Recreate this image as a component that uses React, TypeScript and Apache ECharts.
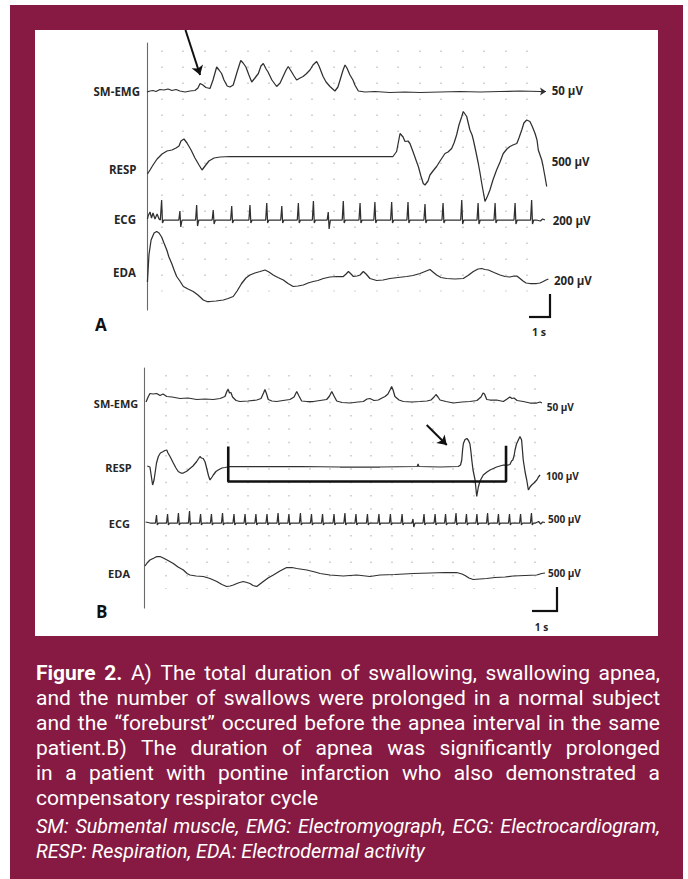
import React, { useEffect, useRef } from "react";
import * as echarts from "echarts";

// ---------- DATA (time in s, amplitude in display units relative to each channel baseline) ----------
// Panel A – normal subject
const emgA: [number, number][] = [
  [0.0, -0.5], [0.14, 0.5], [0.28, 1], [0.42, 0], [0.6, 2], [0.79, 1.5], [0.98, 2.5], [1.16, 1], [1.35, 2], [1.53, 0.5],
  [1.77, -0.5], [2.0, 0.5], [2.23, 1], [2.37, 3.5], [2.47, 8], [2.6, 6.5], [2.74, 4], [2.93, 3], [3.07, 11.5], [3.24, 24.5],
  [3.35, 21.5], [3.47, 18], [3.58, 11.5], [3.73, 5.5], [3.86, 4.5], [4.01, 6.5], [4.19, 19.5], [4.36, 31], [4.47, 28.5], [4.6, 24.5],
  [4.74, 16.5], [4.87, 9.5], [5.02, 13.5], [5.18, 18], [5.3, 25.5], [5.41, 28], [5.54, 22.5], [5.63, 19.5], [5.81, 11.5], [6.03, 5],
  [6.19, 8.5], [6.33, 15], [6.47, 21.5], [6.57, 25], [6.7, 20.5], [6.84, 15.5], [6.96, 11.5], [7.12, 13.5], [7.26, 15], [7.4, 17.5],
  [7.58, 21.5], [7.72, 26.5], [7.89, 30], [8.0, 25.5], [8.19, 15], [8.33, 9.5], [8.51, 5], [8.74, 0.5], [8.88, 4.5], [8.98, 11.5],
  [9.12, 21.5], [9.21, 26.5], [9.3, 23.5], [9.44, 16.5], [9.58, 11.5], [9.67, 6.5], [9.83, 0.5], [10.14, -0.5], [10.6, 0], [11.3, -1],
  [12.0, -0.5], [12.7, -1], [13.63, -0.5], [14.56, 0], [15.49, -0.5], [16.42, 0], [17.35, 0.5], [18.28, 0], [18.51, 0],
];
const respA: [number, number][] = [
  [0.02, -17], [0.14, -13], [0.28, -8], [0.47, -2], [0.7, 3], [0.93, 6], [1.16, 7], [1.35, 9], [1.49, 11], [1.58, 16],
  [1.72, 18], [1.86, 14], [2.05, 7], [2.23, -1], [2.42, -8], [2.56, -13], [2.7, -9], [2.88, -4], [3.12, -1], [3.4, 0],
  [3.86, 0.5], [5.26, 0.5], [7.12, 0.5], [8.98, 0.5], [10.98, 0.5], [11.44, 0.5], [11.61, 5.5], [11.77, 23.5], [11.91, 20], [12.0, 15.5],
  [12.14, 16], [12.23, 13.5], [12.37, 5.5], [12.51, -3], [12.62, -9.5], [12.74, -19], [12.85, -26.5], [12.93, -28], [13.07, -24], [13.16, -18],
  [13.3, -14], [13.47, -9.5], [13.63, -4], [13.86, 3.5], [14.0, 5], [14.17, 8.5], [14.28, 14], [14.4, 22], [14.51, 32], [14.64, 40.5],
  [14.71, 45.5], [14.79, 43], [14.87, 40.5], [14.93, 35], [15.02, 27], [15.12, 22], [15.18, 17], [15.3, 5], [15.41, -6.5], [15.49, -16],
  [15.57, -26.5], [15.65, -36], [15.72, -44.5], [15.84, -39], [15.95, -33], [16.09, -23], [16.26, -13], [16.42, -5], [16.57, 3.5], [16.74, 8],
  [16.88, 10.5], [17.02, 12], [17.2, 13.5], [17.3, 19], [17.43, 27], [17.53, 34], [17.66, 37], [17.81, 35.5], [17.91, 31], [18.05, 23.5],
  [18.14, 17], [18.2, 7], [18.28, 2], [18.36, -3], [18.42, -9], [18.51, -19.5], [18.59, -29.5],
];
const ecgLeadA: [number, number][] = [
  [0.02, 1], [0.05, 4], [0.14, 8], [0.21, 2], [0.28, 7], [0.37, 1], [0.47, 6], [0.56, 1], [0.62, 0],
];
// beat time, R height, S depth
const ecgBeatsA: [number, number, number][] = [
  [0.68, 20, 3], [1.53, 9, 7], [2.31, 15, 6], [3.08, 10, 4], [3.94, 14, 3], [4.79, 15, 3], [5.57, 17, 3], [6.27, 14, 3],
  [7.04, 17, 3], [7.74, 19, 3], [8.43, 8, 9], [9.13, 19, 3], [9.91, 17, 3], [10.6, 18, 3], [11.38, 18, 3], [12.14, 18, 3],
  [12.93, 16, 3], [13.77, 17, 3], [14.64, 20, 4], [15.4, 17, 4], [16.19, 17, 3], [17.12, 17, 4], [17.89, 20, 4],
];
const ecgTailA: [number, number][] = [[18.1, 0], [18.3, -1], [18.4, 1], [18.51, 0]];
const edaA: [number, number][] = [
  [0.02, -5], [0.09, 22], [0.19, 37], [0.33, 44], [0.45, 45.5], [0.56, 44], [0.68, 40], [0.79, 34], [0.92, 27], [1.02, 20],
  [1.15, 13.5], [1.26, 7], [1.38, 0.5], [1.53, -4], [1.69, -9.5], [1.91, -12], [2.15, -14.5], [2.37, -18], [2.62, -23], [2.79, -24.5],
  [2.93, -24.5], [3.21, -24], [3.55, -23], [3.77, -21.5], [4.01, -19.5], [4.19, -14], [4.4, -6.5], [4.6, -1], [4.79, 2], [5.02, 4],
  [5.26, 5.5], [5.49, 7], [5.67, 5], [5.87, 2], [6.09, -0.5], [6.34, -3], [6.56, -6.5], [6.8, -9.5], [7.02, -9], [7.27, -8],
  [7.49, -6], [7.73, -4.5], [7.95, -3.5], [8.2, -1.5], [8.51, 0], [8.82, 0.5], [9.13, 0.5], [9.26, 3], [9.37, 5.5], [9.49, 3],
  [9.6, 0.5], [9.77, 1], [9.91, 2], [10.06, 5.5], [10.19, 3], [10.37, -1.5], [10.68, -3.5], [10.98, -3], [11.3, -1.5], [11.67, -0.5],
  [12.08, 0.5], [12.37, 1.5], [12.7, 3.5], [12.93, 5.5], [13.16, 7.5], [13.3, 5], [13.47, 2], [13.67, -0.5], [13.94, -1.5], [14.33, -2],
  [14.71, -1.5], [14.93, 1.5], [15.18, 5.5], [15.4, 8], [15.57, 8.5], [15.72, 7.5], [15.88, 7], [16.14, 4.5], [16.42, 2], [16.65, 0.5],
  [16.88, 0], [17.07, 1], [17.2, 1], [17.35, -1.5], [17.49, -4], [17.63, -6], [17.81, -6.5], [18.12, -6.5], [18.28, -6], [18.43, -4.5],
  [18.56, -3], [18.67, -2],
];
// foreburst arrow (start, end) on SM-EMG A: [t, amplitude]
const arrowA: [number, number][] = [[1.79, 61.5], [2.47, 16.5]];

// Panel B – pontine infarction
const emgB: [number, number][] = [
  [0.1, -1], [0.2, 4], [0.29, 7.5], [0.44, 7], [0.62, 7.5], [0.78, 5.5], [0.93, 7], [1.11, 4.5], [1.37, 4], [1.76, 2.5],
  [2.15, 3], [2.57, 1.5], [2.98, 2], [3.38, 1.5], [3.71, 2.5], [3.95, 4.5], [4.05, 10], [4.11, 11.5], [4.17, 8], [4.24, 8.5],
  [4.32, 4], [4.49, 0.5], [4.68, -0.5], [5.07, 0], [5.5, 1], [5.71, 2.5], [5.83, 8], [5.9, 11.5], [5.98, 7], [6.06, 1.5],
  [6.24, 0], [6.47, -0.5], [6.78, 0.5], [7.12, 1.5], [7.32, 4], [7.45, 9.5], [7.56, 5], [7.69, 0], [7.95, -0.5], [8.26, -0.5],
  [8.59, 0.5], [8.91, 1.5], [9.05, 5], [9.16, 9.5], [9.27, 5], [9.4, 0], [9.66, -1.5], [10.05, -2], [10.44, -1], [10.7, -0.5],
  [10.88, 2], [11.02, 2.5], [11.22, 0.5], [11.43, 1], [11.61, 3], [11.76, 4.5], [11.9, 7], [12.0, 11], [12.08, 14.5], [12.15, 11],
  [12.24, 4.5], [12.44, 1], [12.65, -0.5], [13.07, -1], [13.46, -0.5], [13.8, 0], [14.0, 1], [14.15, 4], [14.24, 6.5], [14.34, 4],
  [14.44, 1], [14.73, -0.5], [15.09, -2], [15.51, -1], [15.9, -0.5], [16.24, 0.5], [16.44, 4], [16.54, 8], [16.61, 7], [16.72, 1.5],
  [16.88, 1], [17.2, 1], [17.53, -0.5], [17.71, 2], [17.85, 4], [17.95, 2.5], [18.05, 3], [18.2, 0.5], [18.5, -0.5], [18.83, -2],
  [19.16, -2], [19.32, -1], [19.41, -2],
];
const respB: [number, number][] = [
  [0.16, 0.5], [0.29, -0.5], [0.37, -11.5], [0.42, -18.5], [0.49, -13.5], [0.54, -6.5], [0.61, 3.5], [0.7, 10], [0.8, 13.5], [0.94, 15],
  [1.02, 16], [1.11, 16.5], [1.17, 13.5], [1.27, 10], [1.43, 3.5], [1.56, -1.5], [1.67, -5], [1.8, -6.5], [1.92, -6.5], [2.1, -4.5],
  [2.24, -2], [2.39, 0.5], [2.57, 5], [2.68, 8.5], [2.73, 10], [2.8, 8.5], [2.89, 8], [2.98, 4.5], [3.06, -2], [3.15, -9.5],
  [3.22, -13.5], [3.32, -10.5], [3.38, -8.5], [3.51, -5], [3.62, -3.5], [3.8, -1.5], [3.95, -1], [4.2, 0], [5.66, 0], [7.61, 0],
  [9.56, -0.5], [11.51, -0.5], [13.33, 0], [13.37, 2.5], [13.41, 0], [14.44, -0.5], [15.33, 0], [15.44, 1.5], [15.5, 6.5], [15.54, 16.5],
  [15.58, 23], [15.66, 27], [15.75, 28], [15.83, 26], [15.9, 22.5], [15.95, 14.5], [15.99, 6.5], [16.05, -3.5], [16.15, -13.5], [16.23, -30],
  [16.31, -20.5], [16.39, -14.5], [16.55, -8.5], [16.73, -5.5], [16.88, -3.5], [17.2, -0.5], [17.53, 1.5], [17.76, 1.5], [17.85, 2], [17.93, 5.5],
  [17.99, 6.5], [18.05, 10.5], [18.1, 16.5], [18.17, 22.5], [18.26, 26.5], [18.34, 30], [18.42, 26.5], [18.46, 16.5], [18.5, 6.5], [18.59, -5.5],
  [18.67, -13.5], [18.75, -23.5], [18.83, -20.5], [18.91, -18.5], [19.02, -16.5], [19.16, -13.5], [19.24, -10.5], [19.32, -8.5],
];
const ecgLeadB: [number, number][] = [[0.08, 1], [0.3, 0], [0.5, 0]];
const ecgBeatsB: [number, number, number][] = [
  [0.61, 8, 2], [1.15, 9, 2], [1.68, 10, 2], [2.22, 12, 2], [2.76, 9, 2], [3.29, 9, 2], [3.83, 10, 2], [4.39, 9, 2],
  [4.93, 9, 2], [5.46, 9, 2], [6.0, 9, 2], [6.54, 10, 2], [7.07, 9, 2], [7.63, 10, 2], [8.17, 9, 2], [8.71, 9, 2],
  [9.27, 9, 2], [9.8, 10, 2], [10.34, 9, 2], [10.9, 9, 2], [11.46, 9, 2], [12.02, 9, 2], [12.59, 9, 2], [13.12, 4, 4],
  [13.66, 9, 2], [14.2, 9, 2], [14.71, 9, 2], [15.22, 10, 2], [15.73, 9, 2], [16.24, 9, 2], [16.76, 10, 2], [17.29, 9, 2],
  [17.83, 9, 2], [18.37, 9, 2], [18.9, 10, 2],
];
const ecgTailB: [number, number][] = [[19.1, 0], [19.25, 1.5], [19.35, -1], [19.45, 1], [19.56, 0.5]];
const edaB: [number, number][] = [
  [0.05, 9], [0.15, 12], [0.29, 15], [0.49, 17], [0.63, 18.5], [0.78, 18.5], [0.94, 17], [1.17, 14.5], [1.43, 11.5], [1.66, 8],
  [1.92, 5], [2.1, 1.5], [2.24, 0], [2.54, -1], [2.89, -1.5], [3.22, -3.5], [3.55, -6.5], [3.8, -9.5], [4.03, -11.5], [4.2, -11],
  [4.36, -10], [4.59, -8], [4.84, -6.5], [5.02, -7.5], [5.17, -8.5], [5.32, -10.5], [5.5, -11.5], [5.66, -9], [5.82, -6.5], [6.05, -3],
  [6.31, 0], [6.63, 4], [6.96, 7.5], [7.22, 7.5], [7.45, 6.5], [7.94, 5], [8.34, 3], [8.59, 1.5], [9.07, 0], [9.72, -1],
  [10.38, 0], [11.02, -1.5], [11.51, 0], [12.24, 0.5], [13.14, 1.5], [13.95, 2], [14.68, 2.5], [15.25, 2.5], [15.51, 1], [15.66, -0.5],
  [15.85, -3], [16.06, -4.5], [16.39, -4], [16.72, -3.5], [17.12, -2.5], [17.61, -2], [18.01, -1], [18.59, -0.5], [19.16, 0], [19.4, 1.5],
  [19.56, 2],
];
// apnea interval (s) and arrow on RESP B
const apneaB: [number, number] = [4.11, 17.66];
const apneaLevels: [number, number] = [20, -15];
const arrowB: [number, number][] = [[13.79, 41.5], [14.77, 21.5]];

const channelNames = ["SM-EMG", "RESP", "ECG", "EDA"];
const scaleLabelsA = ["50 µV", "500 µV", "200 µV", "200 µV"];
const scaleLabelsB = ["50 µV", "100 µV", "500 µV", "500 µV"];
const timeScaleLabel = "1 s";
const panelLetters = ["A", "B"];

const captionLines = [
  "Figure 2. A) The total duration of swallowing, swallowing apnea,",
  "and the number of swallows were prolonged in a normal subject",
  "and the “foreburst” occured before the apnea interval in the same",
  "patient.B) The duration of apnea was significantly prolonged",
  "in a patient with pontine infarction who also demonstrated a",
  "compensatory respirator cycle",
  "SM: Submental muscle, EMG: Electromyograph, ECG: Electrocardiogram,",
  "RESP: Respiration, EDA: Electrodermal activity",
];

// ---------- LAYOUT ----------
const MAROON = "#861A42";
const TRACE = "#303030";
const LABEL_FONT = "'Open Sans', 'DejaVu Sans', sans-serif";
const CAP_FAMILY = "Roboto, 'Liberation Sans', sans-serif";

// A: value = 310 - pixel row ; B: value = 608 - pixel row
const A = { left: 147, top: 28, width: 413, height: 282, xMax: 413 / 21.5, base: [218.5, 153, 90, 33] };
const B = { left: 144, top: 368, width: 416, height: 240, xMax: 416 / 20.5, base: [207, 141.5, 85, 33] };

function ecgTrace(lead: [number, number][], beats: [number, number, number][], tail: [number, number][]) {
  const pts: [number, number][] = [...lead];
  for (const [t, up, down] of beats) {
    pts.push([t - 0.05, 0], [t, up], [t + 0.04, -down], [t + 0.1, 0]);
  }
  return pts.concat(tail);
}

const shift = (pts: [number, number][], base: number) => pts.map(([t, v]) => [t, base + v]);

function lineSeries(name: string, pts: [number, number][], base: number, axis: number, extra: any = {}) {
  return {
    name,
    type: "line",
    xAxisIndex: axis,
    yAxisIndex: axis,
    data: shift(pts, base),
    symbol: "none",
    clip: false,
    silent: true,
    z: 3,
    lineStyle: { color: TRACE, width: 1.25 },
    ...extra,
  };
}

function txt(text: string, x: number, y: number, font: string, align: string, fill = "#262626") {
  return {
    type: "text",
    x,
    y,
    z: 5,
    silent: true,
    style: { text, font, fill, textAlign: align, textVerticalAlign: "middle", align, verticalAlign: "middle" },
  };
}

function seg(x1: number, y1: number, x2: number, y2: number, w = 2.2) {
  return { type: "line", z: 5, silent: true, shape: { x1, y1, x2, y2 }, style: { stroke: "#111", lineWidth: w } };
}

function captionGraphics() {
  const ctx = document.createElement("canvas").getContext("2d")!;
  const left = 36;
  const right = 660;
  const fontOf = (size: number, bold: boolean, italic: boolean) =>
    `${italic ? "italic " : ""}${bold ? "bold " : ""}${size}px ${CAP_FAMILY}`;
  ctx.font = fontOf(100, false, false);
  const refR = ctx.measureText(captionLines[5]).width;
  const sizeR = Math.round(((100 * 282) / refR) * 10) / 10;
  ctx.font = fontOf(100, false, true);
  const refI = ctx.measureText(captionLines[7]).width;
  const sizeI = Math.round(((100 * 389) / refI) * 10) / 10;
  const ys = [672.5, 697.5, 722.5, 747.5, 772.5, 797.5, 826.5, 851.5];
  const justify = [true, true, true, true, true, false, true, false];
  const els: any[] = [];
  captionLines.forEach((line, i) => {
    const italic = i >= 6;
    const size = italic ? sizeI : sizeR;
    const words = line.split(" ");
    const fonts = words.map((_, k) => fontOf(size, i === 0 && k < 2, italic));
    if (!justify[i]) {
      els.push(txt(line, left, ys[i], fonts[0], "left", "#ffffff"));
      return;
    }
    const widths = words.map((w, k) => {
      ctx.font = fonts[k];
      return ctx.measureText(w).width;
    });
    const total = widths.reduce((a, b) => a + b, 0);
    const gap = (right - left - total) / (words.length - 1);
    let x = left;
    words.forEach((w, k) => {
      els.push(txt(w, x, ys[i], fonts[k], "left", "#ffffff"));
      x += widths[k] + gap;
    });
  });
  return els;
}

function buildOption() {
  const dotAxisX = (grid: number, max: number, dash: number[]) => ({
    gridIndex: grid,
    type: "value",
    min: 0,
    max,
    interval: 1,
    axisLine: { show: false },
    axisTick: { show: false },
    axisLabel: { show: false },
    splitLine: {
      show: true,
      showMinLine: true,
      showMaxLine: true,
      lineStyle: { color: "#c4c4c4", width: 1.5, type: dash },
    },
  });
  const hiddenX = (grid: number, max: number) => ({ gridIndex: grid, type: "value", min: 0, max, show: false });
  const hiddenY = (grid: number, max: number) => ({ gridIndex: grid, type: "value", min: 0, max, show: false });
  const axisY = (grid: number) => ({
    gridIndex: grid,
    type: "value",
    min: 0,
    max: 1,
    axisLine: { show: true, onZero: false, lineStyle: { color: "#6a6a6a", width: 1.1 } },
    axisTick: { show: false },
    axisLabel: { show: false },
    splitLine: { show: false },
  });

  const graphic: any[] = [
    { type: "rect", z: -10, silent: true, shape: { x: 10, y: 5, width: 673, height: 874 }, style: { fill: MAROON } },
    { type: "rect", z: -9, silent: true, shape: { x: 35, y: 30, width: 623, height: 606 }, style: { fill: "#ffffff" } },
  ];
  const labA = [[140, 91.7], [136.5, 169], [136, 219], [136, 272.3]];
  const labB = [[138.3, 403.3], [131.7, 467.7], [130, 523.3], [130, 573.3]];
  const rA = [[551.7, 90.7], [551.7, 161.7], [552.7, 220], [554, 280]];
  const rB = [[546.7, 406.7], [546, 476], [548, 519.3], [548, 573.3]];
  channelNames.forEach((n, i) => {
    graphic.push(txt(n, labA[i][0], labA[i][1], `bold 11.5px ${LABEL_FONT}`, "right"));
    graphic.push(txt(n, labB[i][0], labB[i][1], `bold 11px ${LABEL_FONT}`, "right"));
    graphic.push(txt(scaleLabelsA[i], rA[i][0], rA[i][1], `bold 11.5px ${LABEL_FONT}`, "left"));
    graphic.push(txt(scaleLabelsB[i], rB[i][0], rB[i][1], `bold 10px ${LABEL_FONT}`, "left"));
  });
  graphic.push(txt(panelLetters[0], 95, 324, `bold 17px ${LABEL_FONT}`, "left", "#111"));
  graphic.push(txt(panelLetters[1], 96, 611, `bold 17px ${LABEL_FONT}`, "left", "#111"));
  graphic.push(txt(timeScaleLabel, 539, 332, `bold 10.5px ${LABEL_FONT}`, "center"));
  graphic.push(txt(timeScaleLabel, 541.5, 627, `bold 10px ${LABEL_FONT}`, "center"));
  graphic.push(seg(550, 294, 550, 318), seg(529, 317, 551, 317));
  graphic.push(seg(557, 587, 557, 612), seg(532, 611, 558, 611));
  graphic.push(...captionGraphics());

  const arrowMark = (pts: [number, number][], base: number, extraData: any[] = []) => ({
    silent: true,
    symbol: ["none", "arrow"],
    symbolSize: 9,
    label: { show: false },
    lineStyle: { color: "#111", width: 2, type: "solid" },
    data: [
      [{ coord: [pts[0][0], base + pts[0][1]] }, { coord: [pts[1][0], base + pts[1][1]] }],
      ...extraData,
    ],
  });

  const series: any[] = [
    lineSeries("SM-EMG A", emgA, A.base[0], 0, {
      markLine: arrowMark(arrowA, A.base[0], [
        [
          { coord: [18.3, A.base[0]], lineStyle: { width: 1, color: TRACE } },
          { coord: [18.56, A.base[0]], symbolSize: 6 },
        ],
      ]),
    }),
    lineSeries("RESP A", respA, A.base[1], 0),
    lineSeries("ECG A", ecgTrace(ecgLeadA, ecgBeatsA, ecgTailA), A.base[2], 0),
    lineSeries("EDA A", edaA, A.base[3], 0),
    lineSeries("SM-EMG B", emgB, B.base[0], 2),
    lineSeries("RESP B", respB, B.base[1], 2, { markLine: arrowMark(arrowB, B.base[1]) }),
    lineSeries("ECG B", ecgTrace(ecgLeadB, ecgBeatsB, ecgTailB), B.base[2], 2),
    lineSeries("EDA B", edaB, B.base[3], 2),
    {
      name: "Apnea",
      type: "line",
      xAxisIndex: 2,
      yAxisIndex: 2,
      symbol: "none",
      clip: false,
      silent: true,
      z: 4,
      lineStyle: { color: "#111", width: 2.6 },
      data: [
        [apneaB[0], B.base[1] + apneaLevels[0]],
        [apneaB[0], B.base[1] + apneaLevels[1]],
        [apneaB[1], B.base[1] + apneaLevels[1]],
        [apneaB[1], B.base[1] + apneaLevels[0] + 0.7],
      ],
    },
  ];

  return {
    animation: false,
    backgroundColor: "#ffffff",
    grid: [
      { left: A.left, top: A.top, width: A.width, height: A.height },
      { left: 161.7, top: 50.5, width: 365.5, height: 241 },
      { left: B.left, top: B.top, width: B.width, height: B.height },
      { left: 166, top: 375, width: 369, height: 214 },
      { left: 147, top: 43, width: 10, height: 267 },
      { left: 144, top: 368, width: 10, height: 240 },
    ],
    xAxis: [
      hiddenX(0, A.xMax),
      dotAxisX(1, 17, [1.5, 14.5]),
      hiddenX(2, B.xMax),
      dotAxisX(3, 18, [1.5, 11.83]),
      hiddenX(4, 1),
      hiddenX(5, 1),
    ],
    yAxis: [
      hiddenY(0, A.height),
      hiddenY(1, 1),
      hiddenY(2, B.height),
      hiddenY(3, 1),
      axisY(4),
      axisY(5),
    ],
    graphic,
    series,
  };
}

export default function App() {
  const ref = useRef<HTMLDivElement>(null);
  useEffect(() => {
    const chart = echarts.init(ref.current!, undefined, { renderer: "svg" });
    chart.setOption(buildOption() as any);
    return () => chart.dispose();
  }, []);
  return <div ref={ref} style={{ position: "absolute", left: 0, top: 0, width: 688, height: 879 }} />;
}
